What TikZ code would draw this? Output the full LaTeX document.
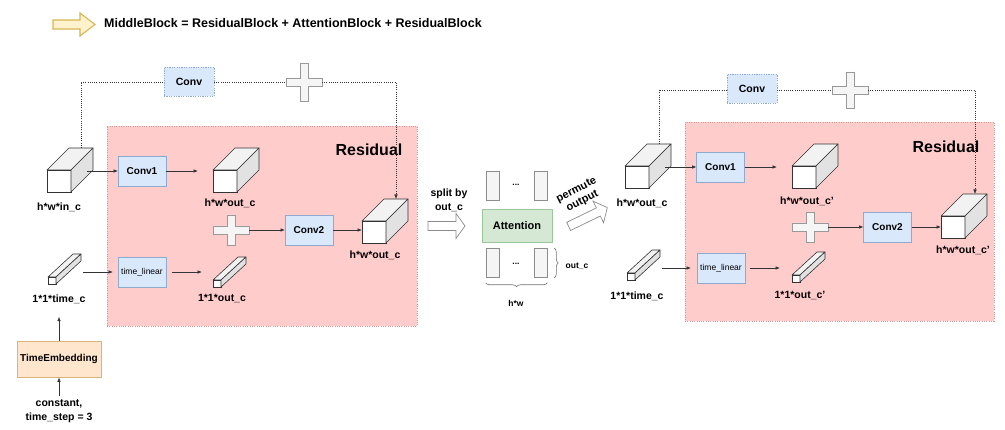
\documentclass[tikz,border=0pt]{standalone}
\usepackage{fontspec}
\setmainfont{Liberation Sans}
\usetikzlibrary{arrows.meta,decorations.pathreplacing,calc}
\definecolor{pinkfill}{HTML}{FFCCCC}
\definecolor{pinkdraw}{HTML}{C99A9A}
\definecolor{bluefill}{HTML}{DAE8FC}
\definecolor{bluedraw}{HTML}{8FA9CF}
\definecolor{greenfill}{HTML}{D5E8D4}
\definecolor{greendraw}{HTML}{9CC59A}
\definecolor{orangefill}{HTML}{FFE6CC}
\definecolor{orangedraw}{HTML}{D9B37A}
\definecolor{yellowfill}{HTML}{FFF2CC}
\definecolor{yellowdraw}{HTML}{D6B656}
\definecolor{linecol}{HTML}{333333}
\definecolor{topgrey}{HTML}{F2F2F2}
\definecolor{sidegrey}{HTML}{E2E2E2}
\newcommand\mkcube[6]{% name, pos, w, h, dx, dy
  \node[cubefront, minimum width=#3pt, minimum height=#4pt] (#1) at (#2) {};
  \draw[cubetop] (#1.north west) -- ++(#5,-#6) -- ++(#3,0) -- (#1.north east) -- cycle;
  \draw[cubeside] (#1.north east) -- ++(#5,-#6) -- ++(0,#4) -- (#1.south east) -- cycle;
  \coordinate (#1-top) at ($(#1.north)+(#5,-#6)$);
}
\newcommand\mkplus[5]{% name, pos, halfw, halfh, halft
  \begin{scope}[shift={(#2)}]
  \draw[plusshape] (-#3,-#5) -- (-#5,-#5) -- (-#5,-#4) -- (#5,-#4) -- (#5,-#5) -- (#3,-#5)
     -- (#3,#5) -- (#5,#5) -- (#5,#4) -- (-#5,#4) -- (-#5,#5) -- (-#3,#5) -- cycle;
  \coordinate (#1) at (0,0);
  \coordinate (#1-w) at (-#3,0);
  \coordinate (#1-e) at (#3,0);
  \end{scope}
}
\newcommand\mkharrow[8]{% name, pos, angle, halflen, halfshaft, halfhead, headlen, style
  \begin{scope}[shift={(#2)}, rotate=#3]
  \draw[#8] (-#4,-#5) -- (#4-#7,-#5) -- (#4-#7,-#6) -- (#4,0) -- (#4-#7,#6) -- (#4-#7,#5) -- (-#4,#5) -- cycle;
  \coordinate (#1) at (0,0);
  \end{scope}
}
\begin{document}
\begin{tikzpicture}[x=1pt,y=-1pt,
  arr/.style={draw=linecol, line width=0.7pt, -{Latex[length=4.5pt,width=3.6pt]}},
  dotline/.style={draw=linecol, line width=0.6pt, dash pattern=on 0.9pt off 1.3pt},
  dotarr/.style={dotline, -{Latex[length=4.5pt,width=3.6pt]}},
  bluebox/.style={draw=bluedraw, fill=bluefill, line width=0.7pt, inner sep=0pt, outer sep=0pt,
    minimum width=48pt, minimum height=30pt, font=\bfseries\fontsize{10}{12}\selectfont},
  bluedash/.style={bluebox, dash pattern=on 1.2pt off 1.2pt, minimum width=50pt, minimum height=29pt,
    font=\bfseries\fontsize{10.5}{12}\selectfont},
  tlbox/.style={bluebox, font=\fontsize{8.5}{10}\selectfont},
  pinkbox/.style={draw=pinkdraw, fill=pinkfill, line width=0.6pt, dash pattern=on 1pt off 1.3pt, inner sep=0pt},
  restitle/.style={font=\bfseries\fontsize{16}{18}\selectfont, inner sep=0pt},
  lbl/.style={font=\bfseries\fontsize{10.5}{14}\selectfont, inner sep=0pt, align=center},
  small/.style={font=\bfseries\fontsize{8.5}{10}\selectfont, inner sep=0pt},
  cubefront/.style={draw=linecol, fill=white, line width=0.6pt, inner sep=0pt, outer sep=0pt},
  cubetop/.style={draw=linecol, fill=topgrey, line width=0.6pt, line join=round},
  cubeside/.style={draw=linecol, fill=sidegrey, line width=0.6pt, line join=round},
  plusshape/.style={draw=black!40, fill=black!4, line width=0.7pt},
  yarrow/.style={draw=yellowdraw, fill=yellowfill, line width=1.1pt, line join=miter},
  garrow/.style={draw=black!45, fill=white, line width=0.7pt},
  bar/.style={draw=black!45, fill=black!4, line width=0.6pt, minimum width=13pt, minimum height=29pt, inner sep=0pt},
  brace/.style={draw=black!55, line width=0.6pt, decorate, decoration={brace, amplitude=4pt}},
]
\fill[white] (0,0) rectangle (1005,430);
\useasboundingbox (0,0) rectangle (1005,430);

% ---------- title ----------
\mkharrow{ya}{74,24.5}{0}{21}{4.5}{11.5}{15}{yarrow}
\node[anchor=west, font=\bfseries\fontsize{12.5}{15}\selectfont, inner sep=0pt] (title) at (104,23)
  {MiddleBlock = ResidualBlock + AttentionBlock + ResidualBlock};

% ---------- left residual block ----------
\node[pinkbox, minimum width=310pt, minimum height=200pt] (resA) at (262,226) {};
\node[restitle] (resAt) at (369,150) {Residual};

\node[bluedash] (convA) at (189,82) {Conv};
\mkplus{plusA}{304,82}{18}{19}{4}

\mkcube{inA}{59,181}{24}{22}{22}{22}
\mkcube{midA}{225,181}{24}{22}{22}{22}
\mkcube{outA}{374,232}{24}{22}{22}{22}
\mkcube{tbarA}{52,280.5}{8}{7}{25}{23}
\mkcube{obarA}{217,283.5}{8}{7}{25}{23}

\node[bluebox] (conv1A) at (142,171) {Conv1};
\node[bluebox] (conv2A) at (309,230) {Conv2};
\node[tlbox] (tlA) at (142,272) {time\_linear};
\mkplus{plusB}{231,230}{18}{15}{4}

\node[lbl] (lInA) at (59,207) {h*w*in\_c};
\node[lbl] (lMidA) at (230,203) {h*w*out\_c};
\node[lbl] (lOutA) at (375,255) {h*w*out\_c};
\node[lbl] (lTbA) at (59,299) {1*1*time\_c};
\node[lbl] (lObA) at (222,299) {1*1*out\_c};

\node[draw=orangedraw, fill=orangefill, line width=0.7pt, minimum width=84pt, minimum height=36pt,
  inner sep=0pt, font=\bfseries\fontsize{10}{12}\selectfont] (temb) at (59,359) {TimeEmbedding};
\node[lbl] (const) at (59,411) {constant,\\time\_step = 3};

% dotted skip path
\draw[dotline] (inA-top) -- (inA-top |- convA.west) -- (convA.west);
\draw[dotline] (convA.east) -- (plusA-w);
\draw[dotarr] (plusA-e) -- (plusA-e -| outA-top) -- (outA-top);

% solid arrows
\coordinate (inAr) at ([xshift=16pt]inA.east);
\draw[arr] (inAr |- conv1A.west) -- (conv1A.west);
\coordinate (midAl) at ([xshift=-15pt]midA.west);
\draw[arr] (conv1A.east) -- (midAl |- conv1A.east);
\draw[arr] (plusB-e) -- (conv2A.west);
\draw[arr] (conv2A.east) -- (outA.west |- conv2A.east);
\coordinate (tbAr) at ([xshift=27pt]tbarA.east);
\draw[arr, shorten >=5pt] (tbAr |- tlA.west) -- (tlA.west);
\coordinate (obAl) at ([xshift=-11pt]obarA.west);
\draw[arr] (tlA.east) ++(6,0) -- (obAl |- tlA.east);
\draw[arr] (temb.north) -- ++(0,-24);
\draw[arr] (const.north) ++(0,-3) -- (temb.south);

% ---------- attention block ----------
\node[lbl] (split) at (449,200) {split by\\out\_c};
\mkharrow{sa}{446.5,226}{0}{18.5}{4.5}{12.5}{9}{garrow}

\node[bar] (tb1) at (492.5,185.5) {};
\node[bar] (tb2) at (540.5,185.5) {};
\node[small] (tdots) at (516,185) {...};
\node[draw=greendraw, fill=greenfill, line width=0.7pt, minimum width=70pt, minimum height=33pt,
  inner sep=0pt, font=\bfseries\fontsize{11}{13}\selectfont] (att) at (517,225.5) {Attention};
\node[bar] (bb1) at (492.5,263) {};
\node[bar] (bb2) at (540.5,263) {};
\node[small] (bdots) at (516,264) {...};
\draw[brace] ([xshift=7pt]bb2.north east) -- ([xshift=7pt]bb2.south east);
\node[small, font=\bfseries\fontsize{8.5}{10}\selectfont] (outcl) at (577,266) {out\_c};
\draw[brace] ([yshift=-5pt]bb2.south east) -- ([yshift=-5pt]bb1.south west);
\node[small] (hwl) at (516,303) {h*w};

\node[lbl, rotate=27, font=\bfseries\fontsize{11}{13}\selectfont] (perm) at (579.5,196) {permute\\output};
\mkharrow{pa}{588,217}{26}{21.5}{4.5}{12}{10}{garrow}

% ---------- right residual block ----------
\node[pinkbox, minimum width=309pt, minimum height=199pt] (resB) at (839.5,221.5) {};
\node[restitle] (resBt) at (946,147) {Residual};

\node[bluedash] (convB) at (752,89) {Conv};
\mkplus{plusC}{850,90}{18}{18}{4}

\mkcube{inB}{637,177}{24}{22}{22}{22}
\mkcube{midB}{804,177}{24}{22}{22}{22}
\mkcube{outB}{953,227}{24}{22}{22}{22}
\mkcube{tbarB}{631,276.5}{8}{7}{25}{23}
\mkcube{obarB}{796,278.5}{8}{7}{25}{23}

\node[bluebox] (conv1B) at (720.5,167) {Conv1};
\node[bluebox] (conv2B) at (887.5,227) {Conv2};
\node[tlbox] (tlB) at (721,268) {time\_linear};
\mkplus{plusD}{810,227}{18}{15}{4}

\node[lbl] (lInB) at (642,203) {h*w*out\_c};
\node[lbl] (lMidB) at (807,201) {h*w*out\_c'};
\node[lbl] (lOutB) at (963,250) {h*w*out\_c'};
\node[lbl] (lTbB) at (637,296) {1*1*time\_c};
\node[lbl] (lObB) at (800,296) {1*1*out\_c'};

\draw[dotline] (inB-top) -- (inB-top |- plusC) -- (convB.west |- plusC);
\draw[dotline] (convB.east |- plusC) -- (plusC-w);
\draw[dotarr] (plusC-e) -- (plusC-e -| outB-top) -- (outB-top);

\coordinate (inBr) at ([xshift=16pt]inB.east);
\draw[arr] (inBr |- conv1B.west) -- (conv1B.west);
\coordinate (midBl) at ([xshift=-15pt]midB.west);
\draw[arr] (conv1B.east) -- (midBl |- conv1B.east);
\draw[arr] (plusD-e) -- (conv2B.west);
\draw[arr] (conv2B.east) -- (outB.west |- conv2B.east);
\coordinate (tbBr) at ([xshift=27pt]tbarB.east);
\draw[arr, shorten >=6pt] (tbBr |- tlB.west) -- (tlB.west);
\coordinate (obBl) at ([xshift=-12pt]obarB.west);
\draw[arr] (tlB.east) ++(5,0) -- (obBl |- tlB.east);
\end{tikzpicture}
\end{document}
